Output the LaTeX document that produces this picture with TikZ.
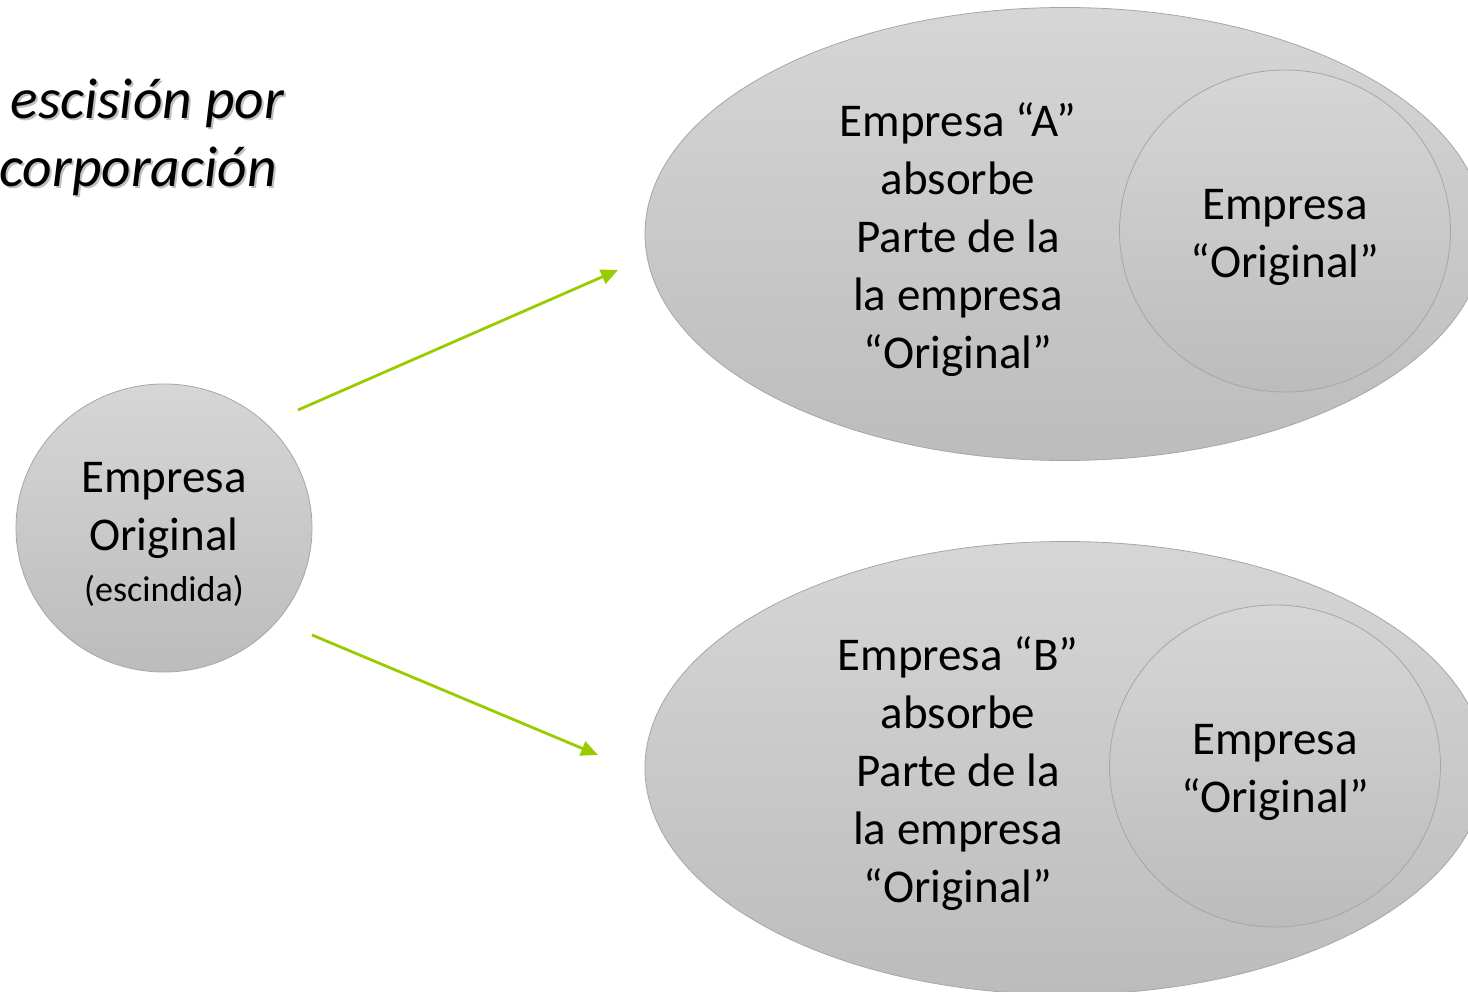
\documentclass[tikz,border=0pt]{standalone}
\usepackage{fontspec}
\setmainfont{Carlito}
\usetikzlibrary{shapes.geometric,arrows.meta}

\definecolor{shapeline}{HTML}{A6A6A6}
\definecolor{shadetop}{HTML}{D6D6D6}
\definecolor{shadebottom}{HTML}{BCBCBC}
\definecolor{arrowgreen}{HTML}{99CC00}

\tikzset{
  grayshape/.style={ellipse, draw=shapeline, line width=0.8pt, top color=shadetop, bottom color=shadebottom, inner sep=0pt},
  bigtext/.style={align=center, font=\fontsize{47}{58}\selectfont},
  titletext/.style={anchor=base west, font=\fontsize{57.5}{68}\selectfont\itshape},
  splitarrow/.style={draw=arrowgreen, line width=2.8pt, -{Triangle[length=17pt,width=15pt]}},
}

\begin{document}
\begin{tikzpicture}[x=1pt, y=-1pt]

\useasboundingbox (0, 0) rectangle (1468, 992);

% title
\node[titletext, text=black!25] (title1shadow) at (9, 121) {escisión por};
\node[titletext, text=black!25] (title2shadow) at (-2, 189) {corporación};
\node[titletext] (title1) at (7, 119) {escisión por};
\node[titletext] (title2) at (-4, 187) {corporación};

% shapes
\node[grayshape, minimum width=296, minimum height=288] (orig) at (164, 528) {};
\node[grayshape, minimum width=840, minimum height=453] (outerA) at (1065, 234) {};
\node[grayshape, minimum width=331, minimum height=322] (innerA) at (1285, 231) {};
\node[grayshape, minimum width=840, minimum height=453] (outerB) at (1065, 768) {};
\node[grayshape, minimum width=331, minimum height=322] (innerB) at (1275, 766) {};

% texts
\node[bigtext] (origtext) at (164, 534) {Empresa\\Original\\[-7pt]{\fontsize{36}{44}\selectfont (escindida)}};
\node[bigtext] (textA) at (958, 240) {Empresa “A”\\absorbe\\Parte de la\\la empresa\\“Original”};
\node[bigtext] (innertextA) at (1285, 237) {Empresa\\“Original”};
\node[bigtext] (textB) at (958, 774) {Empresa “B”\\absorbe\\Parte de la\\la empresa\\“Original”};
\node[bigtext] (innertextB) at (1275, 772) {Empresa\\“Original”};

% arrows
\coordinate (startA) at (298, 410);
\coordinate (endA) at (618, 270);
\coordinate (startB) at (312, 635);
\coordinate (endB) at (598, 755);
\draw[splitarrow] (startA) -- (endA);
\draw[splitarrow] (startB) -- (endB);

\end{tikzpicture}
\end{document}
